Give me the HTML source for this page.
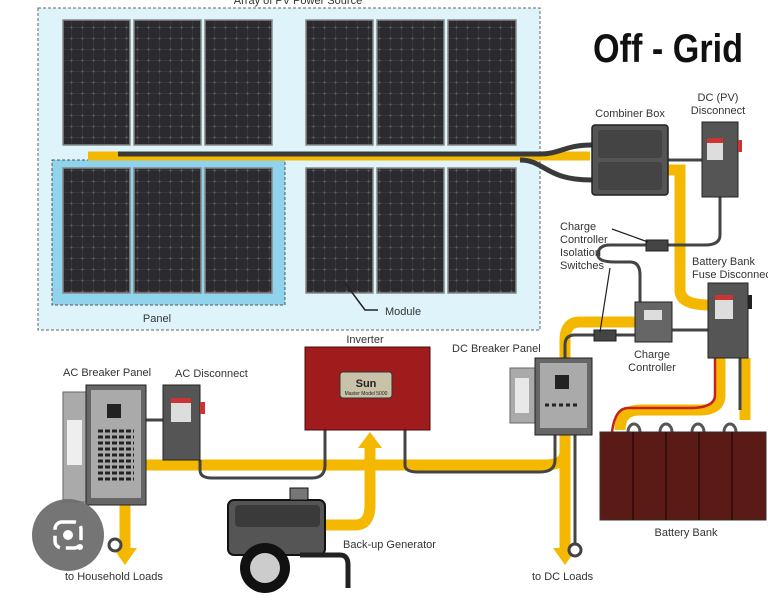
<!DOCTYPE html>
<html><head><meta charset="utf-8"><style>
html,body{margin:0;padding:0;background:#fff;}
svg{display:block;}
text{font-family:"Liberation Sans",sans-serif;fill:#333;}
</style></head><body>
<svg width="768" height="603" viewBox="0 0 768 603" xmlns="http://www.w3.org/2000/svg">
<defs>
<pattern id="cells" width="11" height="11" patternUnits="userSpaceOnUse">
<rect width="11" height="11" fill="#2b2b2f"/>
<circle cx="5.5" cy="5.5" r="0.9" fill="#b9b9c0"/>
<path d="M0 5.5H11M5.5 0V11" stroke="#444" stroke-width="0.5"/>
</pattern>
</defs>
<rect x="38" y="8" width="502" height="322" fill="#dff4fa" stroke="#666" stroke-dasharray="3,2"/>
<text x="298" y="4" font-size="11" text-anchor="middle">Array of PV Power Source</text>
<rect x="52" y="160" width="233" height="145" fill="#8fd3ec" stroke="#555" stroke-dasharray="3,2"/>
<g stroke="#888" stroke-width="1.5" fill="url(#cells)">
<rect x="63" y="20" width="67" height="125"/><rect x="134" y="20" width="67" height="125"/><rect x="205" y="20" width="67" height="125"/>
<rect x="306" y="20" width="67" height="125"/><rect x="377" y="20" width="67" height="125"/><rect x="448" y="20" width="68" height="125"/>
<rect x="63" y="168" width="67" height="125"/><rect x="134" y="168" width="67" height="125"/><rect x="205" y="168" width="67" height="125"/>
<rect x="306" y="168" width="67" height="125"/><rect x="377" y="168" width="67" height="125"/><rect x="448" y="168" width="68" height="125"/>
</g>
<path d="M88 156H590" stroke="#f5b800" stroke-width="9"/>
<path d="M118 154H540 C560 154 565 145 592 145" stroke="#3a3a3a" stroke-width="5" fill="none"/>
<path d="M520 160 C545 160 545 180 592 180" stroke="#3a3a3a" stroke-width="5" fill="none"/>
<text x="157" y="322" font-size="11" text-anchor="middle">Panel</text>
<path d="M345 283L365 310H378" stroke="#222" stroke-width="1.5" fill="none"/>
<text x="385" y="315" font-size="11">Module</text>
<text x="668" y="62" font-size="40" font-weight="bold" text-anchor="middle" style="font-family:'Liberation Sans Narrow','Liberation Sans',sans-serif;fill:#111" textLength="150" lengthAdjust="spacingAndGlyphs">Off - Grid</text>
<g stroke="#f5b800" stroke-width="11" fill="none" stroke-linecap="butt">
<path d="M668 170H680V290Q680 305 710 305"/>
<path d="M720 358V395Q720 410 700 410H640Q620 410 620 430"/>
<path d="M745 358V420"/>
<path d="M672 322H580Q565 322 565 340V360"/>
<path d="M565 435V452Q565 465 545 465H145"/>
<path d="M565 435V548"/>
<path d="M125 505V548"/>
<path d="M325 525H355Q370 525 370 505V448"/>
</g>
<path d="M715 358V395Q715 408 690 408H628Q615 408 612 432" stroke="#c62020" stroke-width="2.5" fill="none"/>
<polygon points="553,548 577,548 565,565" fill="#f5b800"/>
<polygon points="113,548 137,548 125,565" fill="#f5b800"/>
<polygon points="358,448 382,448 370,432" fill="#f5b800"/>
<g stroke="#444" stroke-width="3" fill="none">
<path d="M668 160H702"/>
<path d="M720 197V235Q720 245 705 245H668"/>
<path d="M646 245H610Q598 245 598 255Q598 262 615 262H630Q640 262 640 275V302"/>
<path d="M672 330H708"/>
<path d="M635 335H616"/><path d="M594 335H575Q565 335 565 345V358"/>
<path d="M200 460V470Q200 478 212 478H312Q325 478 325 465V430"/>
<path d="M405 430V465Q405 472 418 472H540Q555 472 555 460V435"/>
<path d="M145 420H163"/>
<path d="M740 358V410"/>
<path d="M575 435V545"/>
</g>
<circle cx="575" cy="550" r="6" fill="#fff" stroke="#444" stroke-width="3"/>
<circle cx="115" cy="545" r="6" fill="#fff" stroke="#444" stroke-width="3"/>
<rect x="592" y="125" width="76" height="70" rx="3" fill="#555" stroke="#222" stroke-width="1.5"/>
<rect x="598" y="130" width="64" height="28" rx="3" fill="#444"/>
<rect x="598" y="162" width="64" height="28" rx="3" fill="#444"/>
<text x="630" y="117" font-size="11" text-anchor="middle">Combiner Box</text>
<rect x="702" y="122" width="36" height="75" fill="#555" stroke="#222"/>
<rect x="707" y="138" width="16" height="22" fill="#ddd"/><rect x="707" y="138" width="16" height="5" fill="#c33"/>
<rect x="738" y="140" width="4" height="12" fill="#c33"/>
<text x="718" y="101" font-size="11" text-anchor="middle">DC (PV)</text>
<text x="718" y="114" font-size="11" text-anchor="middle">Disconnect</text>
<rect x="646" y="240" width="22" height="11" fill="#444" stroke="#222"/>
<rect x="594" y="330" width="22" height="11" fill="#444" stroke="#222"/>
<path d="M612 229L648 242M610 268L600 332" stroke="#222" stroke-width="1.2" fill="none"/>
<text font-size="11" x="560" y="230">Charge</text>
<text font-size="11" x="560" y="243">Controller</text>
<text font-size="11" x="560" y="256">Isolation</text>
<text font-size="11" x="560" y="269">Switches</text>
<rect x="635" y="302" width="37" height="40" fill="#666" stroke="#222"/>
<rect x="644" y="310" width="18" height="10" fill="#ddd"/>
<text font-size="11" x="652" y="358" text-anchor="middle">Charge</text>
<text font-size="11" x="652" y="371" text-anchor="middle">Controller</text>
<rect x="708" y="283" width="40" height="75" fill="#555" stroke="#222"/>
<rect x="715" y="295" width="18" height="24" fill="#ddd"/><rect x="715" y="295" width="18" height="5" fill="#c33"/>
<rect x="748" y="295" width="4" height="14" fill="#222"/>
<text font-size="11" x="692" y="265">Battery Bank</text>
<text font-size="11" x="692" y="278">Fuse Disconnect</text>
<g fill="none" stroke="#555" stroke-width="3">
<path d="M628 432a6 8 0 0 1 12 0M660 432a6 8 0 0 1 12 0M692 432a6 8 0 0 1 12 0M724 432a6 8 0 0 1 12 0"/>
</g>
<rect x="600" y="432" width="166" height="88" fill="#5a1a16" stroke="#333"/>
<g stroke="#2a0a08" stroke-width="1.5"><path d="M633 432V520M666 432V520M699 432V520M732 432V520"/></g>
<text font-size="11" x="686" y="536" text-anchor="middle">Battery Bank</text>
<rect x="510" y="368" width="34" height="55" fill="#aaa" stroke="#666"/>
<rect x="515" y="378" width="14" height="35" fill="#e8e8e8"/>
<rect x="535" y="358" width="57" height="77" fill="#666" stroke="#222"/>
<rect x="540" y="363" width="47" height="65" fill="#aaa"/>
<rect x="555" y="375" width="14" height="14" fill="#222"/>
<path d="M545 405h34" stroke="#222" stroke-width="3" stroke-dasharray="4,3"/>
<text font-size="11" x="452" y="352">DC  Breaker Panel</text>
<rect x="305" y="347" width="125" height="83" fill="#a01c1c" stroke="#4a0a0a"/>
<rect x="340" y="372" width="52" height="26" rx="3" fill="#c9c2a8" stroke="#333"/>
<text x="366" y="387" font-size="11" font-weight="bold" text-anchor="middle" style="fill:#222">Sun</text>
<text x="366" y="395" font-size="5" text-anchor="middle" style="fill:#222">Master  Model 5000</text>
<text x="365" y="343" font-size="11" text-anchor="middle">Inverter</text>
<rect x="63" y="392" width="28" height="110" fill="#aaa" stroke="#666"/>
<rect x="67" y="420" width="15" height="45" fill="#eee"/>
<rect x="86" y="385" width="60" height="120" fill="#666" stroke="#222"/>
<rect x="91" y="390" width="50" height="108" fill="#aaa"/>
<rect x="107" y="404" width="14" height="14" fill="#222"/>
<g stroke="#222" stroke-width="3" stroke-dasharray="5,2">
<path d="M98 431h36M98 437h36M98 443h36M98 449h36M98 455h36M98 461h36M98 467h36M98 473h36M98 479h36"/>
</g>
<text font-size="11" x="63" y="376">AC Breaker Panel</text>
<rect x="163" y="385" width="37" height="75" fill="#555" stroke="#222"/>
<rect x="171" y="398" width="20" height="24" fill="#ddd"/><rect x="171" y="398" width="20" height="5" fill="#c33"/>
<rect x="200" y="402" width="5" height="12" fill="#c33"/>
<text font-size="11" x="175" y="377">AC Disconnect</text>
<rect x="228" y="500" width="97" height="55" rx="6" fill="#555" stroke="#111" stroke-width="2"/>
<rect x="235" y="505" width="85" height="22" rx="4" fill="#3a3a3a"/>
<rect x="290" y="488" width="18" height="12" fill="#777" stroke="#111"/>
<path d="M300 555H340Q348 555 348 565V588" stroke="#222" stroke-width="5" fill="none"/>
<circle cx="265" cy="568" r="25" fill="#111"/>
<circle cx="265" cy="568" r="15" fill="#ccc"/>
<text font-size="11" x="343" y="548">Back-up Generator</text>
<text font-size="11" x="65" y="580">to Household Loads</text>
<text font-size="11" x="532" y="580">to DC Loads</text>
<circle cx="68" cy="535" r="36" fill="#6e6e6e" opacity="0.95"/>
<rect x="55" y="522" width="26" height="26" rx="7" fill="none" stroke="#fff" stroke-width="3.5" stroke-dasharray="14,6"/>
<circle cx="68" cy="535" r="5" fill="#fff"/>
<circle cx="80" cy="547" r="3" fill="#fff"/>
</svg>
</body></html>
